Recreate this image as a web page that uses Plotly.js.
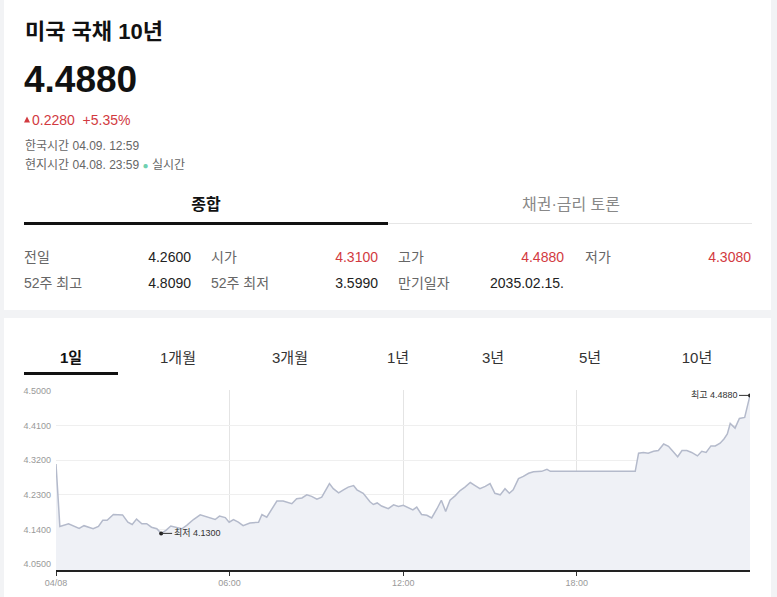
<!DOCTYPE html>
<html>
<head>
<meta charset="utf-8">
<script src="https://cdn.plot.ly/plotly-3.0.1.min.js"></script>
<style>
  html, body { margin:0; padding:0; }
  body { width:777px; height:597px; background:#f2f3f5; position:relative; overflow:hidden;
         font-family:"Liberation Sans","Noto Sans CJK KR",Arial,sans-serif; }
  .card { position:absolute; background:#fff; }
  .t { position:absolute; white-space:nowrap; transform:translateY(-50%); line-height:1.2; }
  .r { transform:translate(-100%,-50%); }
  .c { transform:translate(-50%,-50%); }
  .lbl { font-size:14px; color:#666; }
  .val { font-size:14px; color:#222; }
  .red { color:#d23a3f; }
  .tab { font-size:15px; color:#333; }
  .tri { display:inline-block; width:0; height:0; border-left:3.5px solid transparent;
         border-right:3.5px solid transparent; border-bottom:6px solid #d23a3f;
         margin-right:2px; vertical-align:2px; }
  #chart { position:absolute; left:0; top:380px; width:777px; height:217px; }
</style>
</head>
<body>
<div class="card" style="left:4px;top:0;width:767px;height:310px;"></div>
<div class="card" style="left:4px;top:318px;width:767px;height:279px;"></div>

<div class="t" style="left:25px;top:32px;font-size:22px;font-weight:bold;color:#111;">미국 국채 10년</div>
<div class="t" style="left:24px;top:80px;font-size:37px;font-weight:bold;color:#111;">4.4880</div>
<div class="t red" style="left:24px;top:120px;font-size:14px;"><span class="tri"></span>0.2280&nbsp;&nbsp;+5.35%</div>
<div class="t" style="left:25px;top:146px;font-size:12px;color:#666;">한국시간 04.09. 12:59</div>
<div class="t" style="left:25px;top:165px;font-size:12px;color:#666;">현지시간 04.08. 23:59 <span style="color:#6fd0b0;font-size:10px;">●</span> 실시간</div>

<div class="t c" style="left:206px;top:205px;font-size:16px;font-weight:bold;color:#111;">종합</div>
<div class="t c" style="left:571px;top:205px;font-size:16px;color:#888;">채권·금리 토론</div>
<div style="position:absolute;left:24px;top:222px;width:364px;height:3px;background:#111;"></div>
<div style="position:absolute;left:388px;top:223px;width:364px;height:1px;background:#e6e6e6;"></div>

<div class="t lbl" style="left:24px;top:257px;">전일</div>
<div class="t val r" style="left:191px;top:257px;">4.2600</div>
<div class="t lbl" style="left:211px;top:257px;">시가</div>
<div class="t val red r" style="left:378px;top:257px;">4.3100</div>
<div class="t lbl" style="left:398px;top:257px;">고가</div>
<div class="t val red r" style="left:564px;top:257px;">4.4880</div>
<div class="t lbl" style="left:585px;top:257px;">저가</div>
<div class="t val red r" style="left:751px;top:257px;">4.3080</div>

<div class="t lbl" style="left:24px;top:283px;">52주 최고</div>
<div class="t val r" style="left:191px;top:283px;">4.8090</div>
<div class="t lbl" style="left:211px;top:283px;">52주 최저</div>
<div class="t val r" style="left:378px;top:283px;">3.5990</div>
<div class="t lbl" style="left:398px;top:283px;">만기일자</div>
<div class="t val r" style="left:564px;top:283px;">2035.02.15.</div>

<div class="t c tab" style="left:71px;top:358px;font-weight:bold;color:#111;">1일</div>
<div class="t c tab" style="left:178px;top:358px;">1개월</div>
<div class="t c tab" style="left:290px;top:358px;">3개월</div>
<div class="t c tab" style="left:398px;top:358px;">1년</div>
<div class="t c tab" style="left:493px;top:358px;">3년</div>
<div class="t c tab" style="left:590px;top:358px;">5년</div>
<div class="t c tab" style="left:697px;top:358px;">10년</div>
<div style="position:absolute;left:24px;top:372px;width:94px;height:3px;background:#111;"></div>

<div id="chart"></div>

<script>
// ---- data ----
const day = "2025-04-08";
const times = [
  "00:00","00:08","00:26","00:36","00:48","00:58","01:07","01:17","01:28","01:37",
  "01:46","01:59","02:18","02:29","02:38","02:47","02:58","03:08","03:18","03:29",
  "03:38","03:48","03:58","04:09","04:21","04:31","04:45","04:59","05:16","05:30",
  "05:39","05:51","05:59","06:08","06:18","06:28","06:42","06:53","07:00","07:07",
  "07:17","07:38","07:51","08:09","08:19","08:30","08:40","08:50","09:01","09:11",
  "09:27","09:35","09:46","09:56","10:06","10:17","10:24","10:37","10:51","10:58",
  "11:06","11:15","11:29","11:40","11:50","12:00","12:11","12:20","12:28","12:38",
  "12:49","12:59","13:10","13:19","13:28","13:37","13:48","13:58","14:08","14:19",
  "14:29","14:39","14:50","15:00","15:10","15:21","15:31","15:40","15:48","15:59",
  "16:09","16:20","16:30","16:47","16:58","17:05","20:01","20:08","20:18","20:28",
  "20:39","20:49","21:00","21:10","21:19","21:29","21:38","21:48","21:58","22:10",
  "22:19","22:28","22:38","22:47","22:57","23:05","23:12","23:18","23:28","23:37",
  "23:48","23:59"
];
const yields = [
  4.310,4.148,4.155,4.150,4.143,4.150,4.146,4.142,4.148,4.164,
  4.164,4.179,4.178,4.159,4.153,4.167,4.155,4.155,4.146,4.142,
  4.130,4.138,4.149,4.146,4.142,4.151,4.166,4.178,4.172,4.166,
  4.175,4.171,4.159,4.166,4.159,4.150,4.157,4.159,4.159,4.179,
  4.172,4.214,4.214,4.207,4.220,4.222,4.230,4.226,4.219,4.224,
  4.259,4.246,4.235,4.243,4.250,4.254,4.243,4.234,4.212,4.205,
  4.209,4.201,4.194,4.204,4.200,4.203,4.196,4.191,4.198,4.179,
  4.177,4.170,4.194,4.216,4.187,4.216,4.228,4.241,4.250,4.262,
  4.254,4.246,4.252,4.259,4.234,4.230,4.246,4.234,4.243,4.272,
  4.278,4.286,4.290,4.291,4.296,4.291,4.291,4.338,4.340,4.338,
  4.343,4.345,4.362,4.356,4.343,4.329,4.345,4.345,4.340,4.331,
  4.343,4.340,4.357,4.357,4.364,4.375,4.388,4.415,4.403,4.428,
  4.431,4.488
];
const yTicks = [4.05, 4.14, 4.23, 4.32, 4.41, 4.50];
const xTickTimes = ["00:00","06:00","12:00","18:00"];
const xTickText = ["04/08","06:00","12:00","18:00"];
const lowLabel = "최저";
const highLabel = "최고";

// ---- build ----
const xs = times.map(t => day + " " + t);
let iMin = 0, iMax = 0;
yields.forEach((v,i) => { if (v < yields[iMin]) iMin = i; if (v > yields[iMax]) iMax = i; });

const traces = [
  { x: xs, y: yields, type: "scatter", mode: "lines",
    line: { color: "#b4bacb", width: 1.5 },
    fill: "tozeroy", fillcolor: "#eff1f6", hoverinfo: "skip" },
  { x: [xs[iMin], xs[iMax]], y: [yields[iMin], yields[iMax]], type: "scatter", mode: "markers",
    marker: { color: "#222", size: 4 }, hoverinfo: "skip" }
];

const annFont = { family: "Liberation Sans, Noto Sans CJK KR, sans-serif", size: 9, color: "#333" };
const layout = {
  width: 777, height: 217,
  margin: { l: 56, r: 27, t: 10, b: 27 },
  paper_bgcolor: "rgba(0,0,0,0)", plot_bgcolor: "#fff",
  showlegend: false,
  font: { family: "Liberation Sans, Noto Sans CJK KR, sans-serif", size: 9, color: "#999" },
  xaxis: {
    type: "date",
    range: [day + " 00:00", day + " 23:59"],
    tickvals: xTickTimes.map(t => day + " " + t),
    ticktext: xTickText,
    showgrid: true, gridcolor: "#e4e4e4", gridwidth: 1,
    showline: true, linecolor: "#222", linewidth: 1.5,
    ticks: "outside", ticklen: 4, tickcolor: "#333", tickwidth: 1,
    tickfont: { size: 9, color: "#999" },
    zeroline: false, fixedrange: true
  },
  yaxis: {
    range: [4.035, 4.502],
    tickvals: yTicks,
    tickformat: ".4f",
    showgrid: true, gridcolor: "#efefef", gridwidth: 1,
    showline: false, zeroline: false, ticks: "",
    ticklabelstandoff: 4,
    tickfont: { size: 9, color: "#999" },
    fixedrange: true
  },
  annotations: [
    { x: xs[iMin], y: yields[iMin], xref: "x", yref: "y",
      text: lowLabel + " " + yields[iMin].toFixed(4),
      showarrow: true, arrowhead: 0, arrowwidth: 1, arrowcolor: "#333",
      ax: 36, ay: 0, font: annFont, xanchor: "center" },
    { x: xs[iMax], y: yields[iMax], xref: "x", yref: "y",
      text: highLabel + " " + yields[iMax].toFixed(4),
      showarrow: true, arrowhead: 0, arrowwidth: 1, arrowcolor: "#333",
      ax: -36, ay: 0, font: annFont, xanchor: "center" }
  ]
};

Plotly.newPlot("chart", traces, layout, { staticPlot: true, displayModeBar: false });
</script>
</body>
</html>
